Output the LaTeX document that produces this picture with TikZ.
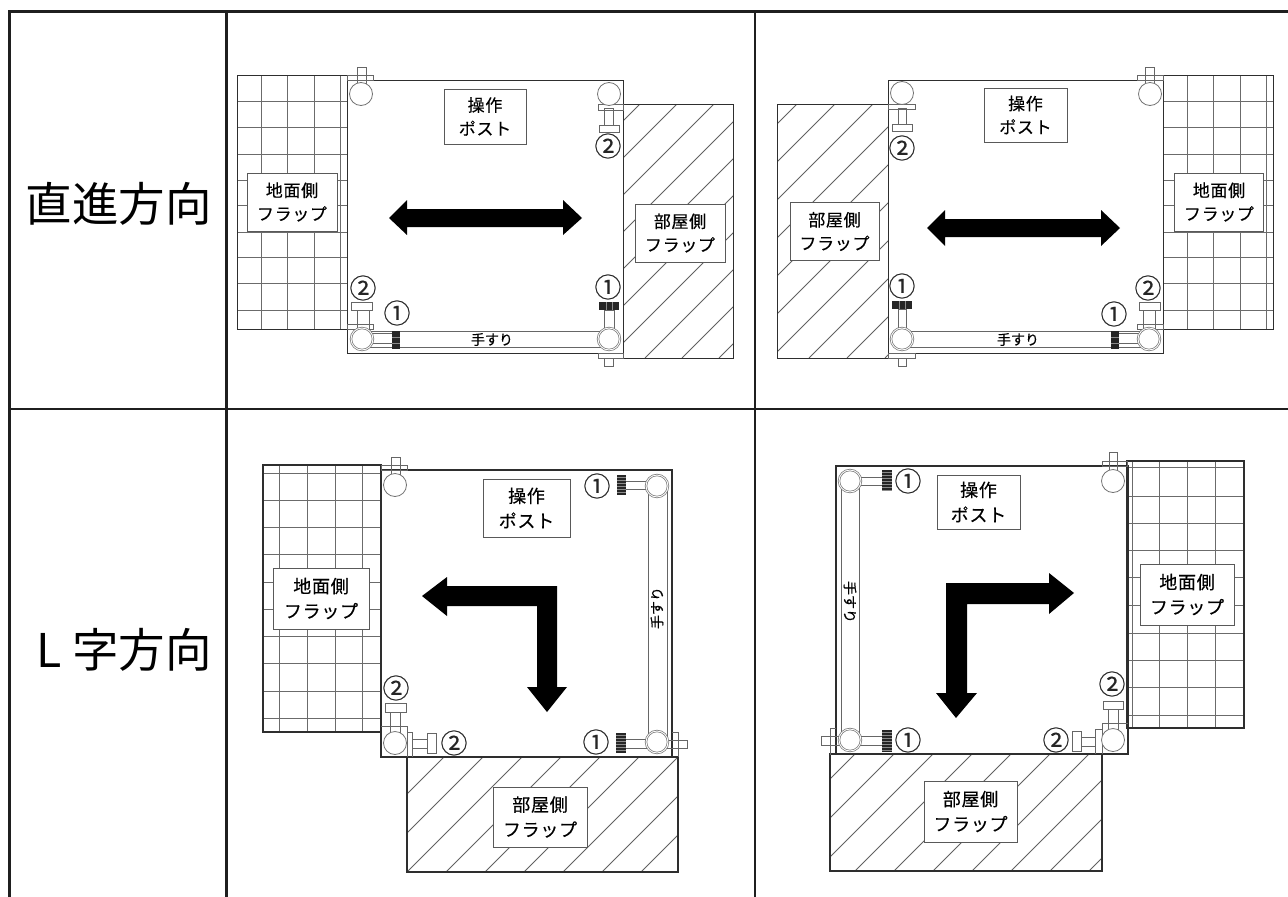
\documentclass[tikz,border=0pt]{standalone}
\usepackage{fontspec}
\setmainfont{Noto Sans CJK JP}
\newfontfamily\boxfont[FakeBold=0.35,LetterSpace=4]{Noto Sans CJK JP}
\newfontfamily\partfont[FakeBold=0.25]{Noto Sans CJK JP}
\usetikzlibrary{positioning}

\begin{document}
\begin{tikzpicture}[x=1pt,y=-1pt]
  \tikzstyle{tableline} = [draw=black!88, line width=2.1pt]
  \tikzstyle{rowtitle} = [inner sep=0pt, anchor=east, font={\fontsize{46.5}{50}\selectfont}]
  \tikzstyle{frameline} = [draw=black!82, line width=1pt]
  \tikzstyle{gridline} = [draw=black!58, line width=.9pt]
  \tikzstyle{hatchline} = [draw=black!62, line width=.8pt]
  \tikzstyle{fixture} = [draw=black!60, line width=.8pt]
  \tikzstyle{knob} = [circle, draw=black!55, line width=.8pt, fill=white, minimum size=23pt, inner sep=0pt]
  \tikzstyle{railknob} = [circle, draw=black!55, line width=.7pt, double=white, double distance=.9pt, minimum size=22pt, inner sep=0pt]
  \tikzstyle{blackbar} = [fill=black!85]
  \tikzstyle{barstripe} = [draw=black!45, line width=.5pt]
  \tikzstyle{bigarrow} = [fill=black]
  \tikzstyle{labelbox} = [rectangle, draw=black!65, line width=.8pt, fill=white, align=center, inner sep=0pt, font={\boxfont\fontsize{17}{23.5}\selectfont}]
  \tikzstyle{largebox} = [labelbox, font={\boxfont\fontsize{18}{25}\selectfont}]
  \tikzstyle{partno} = [inner sep=0pt, text=black!85, font={\partfont\fontsize{27}{27}\selectfont}]
  \tikzstyle{railtext} = [inner sep=0pt, font={\partfont\fontsize{14}{14}\selectfont}]

  \useasboundingbox (0,0) rectangle (1288,897);

  % Table
  \draw[tableline] (9.5,897) -- (9.5,11.5) -- (1288,11.5);
  \draw[tableline] (226.5,11.5) -- (226.5,897);
  \draw[tableline] (755,11.5) -- (755,897);
  \draw[tableline] (9.5,409) -- (1288,409);
  \node (straight) at (212,204) [rowtitle] {直進方向};
  \node (lshape) at (212,650) [rowtitle] {L 字方向};

  % Top middle: straight, ground flap on the left
  \foreach \gx in {261,287,314,340} \draw[gridline] (\gx,75) -- (\gx,329);
  \foreach \gy in {101,127,154,180,205,232,257,283,310} \draw[gridline] (237,\gy) -- (347,\gy);
  \draw[frameline] (237,75) rectangle (347,329);
  \begin{scope}
    \clip (623,104) rectangle (733,358);
    \foreach \c in {744,781,...,1090} \draw[hatchline] ({\c-358},358) -- ({\c-104},104);
  \end{scope}
  \draw[frameline] (623,104) rectangle (733,358);
  \draw[frameline] (347,80) rectangle (623,353);
  \node (ag) at (292,202) [labelbox, minimum width=90pt, minimum height=58pt] {地面側\\フラップ};
  \node (ar) at (680,233) [labelbox, minimum width=90pt, minimum height=58pt] {部屋側\\フラップ};
  \node (ap) at (485,116.5) [labelbox, minimum width=82pt, minimum height=55pt] {操作\\ポスト};
  \fill[bigarrow] (389,218) -- (407,200) -- (407,209) -- (563,209) -- (563,200) -- (582,218) -- (563,235) -- (563,227) -- (407,227) -- (407,235) -- cycle;
  \draw[fixture] (347,75) rectangle (373,80);
  \draw[fixture] (357,67) rectangle (366,84);
  \node (atl) at (361,94) [knob] {};
  \draw[fixture] (598,104) rectangle (623,110);
  \draw[fixture] (604,108) rectangle (613,125);
  \draw[fixture] (599,125) rectangle (619,132);
  \node (atr) at (609,94) [knob] {};
  \node (an2a) at (608,146) [partno] {②};
  \draw[fixture] (347,324) rectangle (373,329);
  \draw[fixture] (357,310) rectangle (369,331);
  \draw[fixture] (351,302) rectangle (372,310);
  \node (an2b) at (363,288) [partno] {②};
  \draw[fixture] (598,353) rectangle (623,358);
  \draw[fixture] (604,358) rectangle (613,366);
  \draw[fixture] (604,310) rectangle (614,331);
  \fill[blackbar] (599,302) rectangle (619,310);
  \foreach \sx in {606,612} \draw[barstripe] (\sx,302) -- (\sx,310);
  \node (an1a) at (608,287) [partno] {①};
  \draw[fixture] (362,331) rectangle (609,347);
  \draw[fixture] (362,333) rectangle (395,343);
  \fill[blackbar] (392,331) rectangle (400,349);
  \foreach \sy in {337,343} \draw[barstripe] (392,\sy) -- (400,\sy);
  \node (an1b) at (397,313) [partno] {①};
  \node (abl) at (362,339) [railknob, fill=white] {};
  \node (abr) at (609,339) [railknob, fill=white] {};
  \node (arail) at (492,339.5) [railtext] {手すり};

  % Top right: straight, ground flap on the right
  \foreach \gx in {1187,1213,1240,1266} \draw[gridline] (\gx,75) -- (\gx,329);
  \foreach \gy in {101,127,154,180,205,232,257,283,310} \draw[gridline] (1163,\gy) -- (1273,\gy);
  \draw[frameline] (1163,75) rectangle (1273,329);
  \begin{scope}
    \clip (777,104) rectangle (888,358);
    \foreach \c in {901,939,...,1245} \draw[hatchline] ({\c-358},358) -- ({\c-104},104);
  \end{scope}
  \draw[frameline] (777,104) rectangle (888,358);
  \draw[frameline] (888,80) rectangle (1163,353);
  \node (bg) at (1219,202) [labelbox, minimum width=89pt, minimum height=58pt] {地面側\\フラップ};
  \node (br) at (834.5,231.5) [labelbox, minimum width=89pt, minimum height=58pt] {部屋側\\フラップ};
  \node (bp) at (1025.5,115) [labelbox, minimum width=83pt, minimum height=54pt] {操作\\ポスト};
  \fill[bigarrow] (927,228) -- (945,210) -- (945,219) -- (1101,219) -- (1101,210) -- (1120,228) -- (1101,246) -- (1101,237) -- (945,237) -- (945,246) -- cycle;
  \draw[fixture] (1137,75) rectangle (1163,80);
  \draw[fixture] (1145,67) rectangle (1154,84);
  \node (btr) at (1150,94) [knob] {};
  \draw[fixture] (888,104) rectangle (915,109);
  \draw[fixture] (898,108) rectangle (906,124);
  \draw[fixture] (892,124) rectangle (912,131);
  \node (btl) at (902,93) [knob] {};
  \node (bn2a) at (902,148) [partno] {②};
  \draw[fixture] (1137,324) rectangle (1163,329);
  \draw[fixture] (1143,310) rectangle (1155,331);
  \draw[fixture] (1139,302) rectangle (1160,310);
  \node (bn2b) at (1148,288) [partno] {②};
  \draw[fixture] (888,353) rectangle (915,358);
  \draw[fixture] (898,358) rectangle (906,366);
  \draw[fixture] (898,309) rectangle (906,331);
  \fill[blackbar] (892,301) rectangle (912,309);
  \foreach \sx in {899,905} \draw[barstripe] (\sx,301) -- (\sx,309);
  \node (bn1a) at (902,286) [partno] {①};
  \draw[fixture] (902,331) rectangle (1149,347);
  \draw[fixture] (1115,333) rectangle (1149,343);
  \fill[blackbar] (1111,331) rectangle (1119,349);
  \foreach \sy in {337,343} \draw[barstripe] (1111,\sy) -- (1119,\sy);
  \node (bn1b) at (1114,314) [partno] {①};
  \node (bbl) at (902,339) [railknob, fill=white] {};
  \node (bbr) at (1149,339) [railknob, fill=white] {};
  \node (brail) at (1018,339.5) [railtext] {手すり};

  % Bottom middle: L turn to the left and down
  \foreach \gx in {279,307,335,362} \draw[gridline] (\gx,465) -- (\gx,732);
  \foreach \gy in {473,500,527,554,582,609,636,663,691,718} \draw[gridline] (263,\gy) -- (381,\gy);
  \draw[frameline, line width=1.2pt] (263,465) rectangle (381,732);
  \begin{scope}
    \clip (407,757) rectangle (678,872);
    \foreach \c in {1201,1240,...,1552} \draw[hatchline] ({\c-872},872) -- ({\c-757},757);
  \end{scope}
  \draw[frameline, line width=1.2pt] (407,757) rectangle (678,872);
  \draw[frameline, line width=1.2pt] (381,470) rectangle (672,757);
  \node (cg) at (321,598.5) [largebox, minimum width=96pt, minimum height=61pt] {地面側\\フラップ};
  \node (cr) at (540,817) [largebox, minimum width=94pt, minimum height=60pt] {部屋側\\フラップ};
  \node (cp) at (526.5,508) [largebox, minimum width=87pt, minimum height=58pt] {操作\\ポスト};
  \fill[bigarrow] (422,596) -- (447,577) -- (447,586) -- (557,586) -- (557,687) -- (567,687) -- (547,712) -- (527,687) -- (537,687) -- (537,606) -- (447,606) -- (447,616) -- cycle;
  \draw[fixture] (381,465) rectangle (407,470);
  \draw[fixture] (391,457) rectangle (400,474);
  \node (ctl) at (395,485) [knob] {};
  \draw[fixture] (381,726) -- (407,726) -- (407,757);
  \draw[fixture] (407,732) -- (412,732) -- (412,757);
  \draw[fixture] (390,712) rectangle (400,733);
  \draw[fixture] (385,703) rectangle (406,712);
  \draw[fixture] (412,739) rectangle (427,748);
  \draw[fixture] (427,733) rectangle (436,753);
  \node (cbl) at (395,743) [knob] {};
  \node (cn2a) at (396,688) [partno] {②};
  \node (cn2b) at (454,743) [partno] {②};
  \draw[fixture] (672,732) -- (678,732) -- (678,757);
  \draw[fixture] (660,740) rectangle (687,748);
  \draw[fixture] (648,486) rectangle (667,742);
  \draw[fixture] (624,481) rectangle (650,489);
  \draw[fixture] (624,739) rectangle (650,748);
  \fill[blackbar] (617,475) rectangle (626,495);
  \foreach \sy in {477,480,...,494} \draw[barstripe] (617,\sy) -- (626,\sy);
  \fill[blackbar] (616,733) rectangle (626,753);
  \foreach \sy in {735,738,...,752} \draw[barstripe] (616,\sy) -- (626,\sy);
  \node (cn1a) at (597,486) [partno] {①};
  \node (cn1b) at (596,742) [partno] {①};
  \node (ctr) at (657,486) [railknob, fill=white] {};
  \node (cbr) at (657,742) [railknob, fill=white] {};
  \node (crail) at (657,608) [railtext, rotate=90] {手すり};

  % Bottom right: L turn to the right and down
  \foreach \gx in {1132,1159,1187,1215} \draw[gridline] (\gx,461) -- (\gx,728);
  \foreach \gy in {467,496,523,550,577,605,633,660,687,715} \draw[gridline] (1127,\gy) -- (1244,\gy);
  \draw[frameline, line width=1.2pt] (1127,461) rectangle (1244,728);
  \begin{scope}
    \clip (830,754) rectangle (1102,871);
    \foreach \c in {1609,1648,...,1973} \draw[hatchline] ({\c-871},871) -- ({\c-754},754);
  \end{scope}
  \draw[frameline, line width=1.2pt] (830,754) rectangle (1102,871);
  \draw[frameline, line width=1.2pt] (836,466) rectangle (1128,754);
  \node (dg) at (1187,594.5) [largebox, minimum width=94pt, minimum height=61pt] {地面側\\フラップ};
  \node (dr) at (970.5,811.5) [largebox, minimum width=93pt, minimum height=61pt] {部屋側\\フラップ};
  \node (dp) at (978.5,502) [largebox, minimum width=83pt, minimum height=54pt] {操作\\ポスト};
  \fill[bigarrow] (1074,593) -- (1049,573) -- (1049,583) -- (946,583) -- (946,693) -- (936,693) -- (956,718) -- (977,693) -- (967,693) -- (967,604) -- (1049,604) -- (1049,614) -- cycle;
  \draw[fixture] (1102,461) rectangle (1127,466);
  \draw[fixture] (1109,452) rectangle (1117,470);
  \node (dtr) at (1113,481) [knob] {};
  \draw[fixture] (1128,723) -- (1102,723) -- (1102,754);
  \draw[fixture] (1102,729) -- (1095,729) -- (1095,754);
  \draw[fixture] (1108,709) rectangle (1118,730);
  \draw[fixture] (1103,701) rectangle (1123,709);
  \draw[fixture] (1081,737) rectangle (1095,746);
  \draw[fixture] (1072,731) rectangle (1081,751);
  \node (dbr) at (1113,740) [knob] {};
  \node (dn2a) at (1112,684) [partno] {②};
  \node (dn2b) at (1056,740) [partno] {②};
  \draw[fixture] (836,728) -- (830,728) -- (830,755);
  \draw[fixture] (821,736) rectangle (845,745);
  \draw[fixture] (841,481) rectangle (859,740);
  \draw[fixture] (855,477) rectangle (884,485);
  \draw[fixture] (855,736) rectangle (884,745);
  \fill[blackbar] (882,470) rectangle (892,491);
  \foreach \sy in {472,475,...,490} \draw[barstripe] (882,\sy) -- (892,\sy);
  \fill[blackbar] (882,730) rectangle (892,752);
  \foreach \sy in {732,735,...,751} \draw[barstripe] (882,\sy) -- (892,\sy);
  \node (dn1a) at (908,481) [partno] {①};
  \node (dn1b) at (908,740) [partno] {①};
  \node (dtl) at (850,481) [railknob, fill=white] {};
  \node (dbl) at (850,740) [railknob, fill=white] {};
  \node (drail) at (850,602) [railtext, rotate=-90] {手すり};
\end{tikzpicture}
\end{document}
